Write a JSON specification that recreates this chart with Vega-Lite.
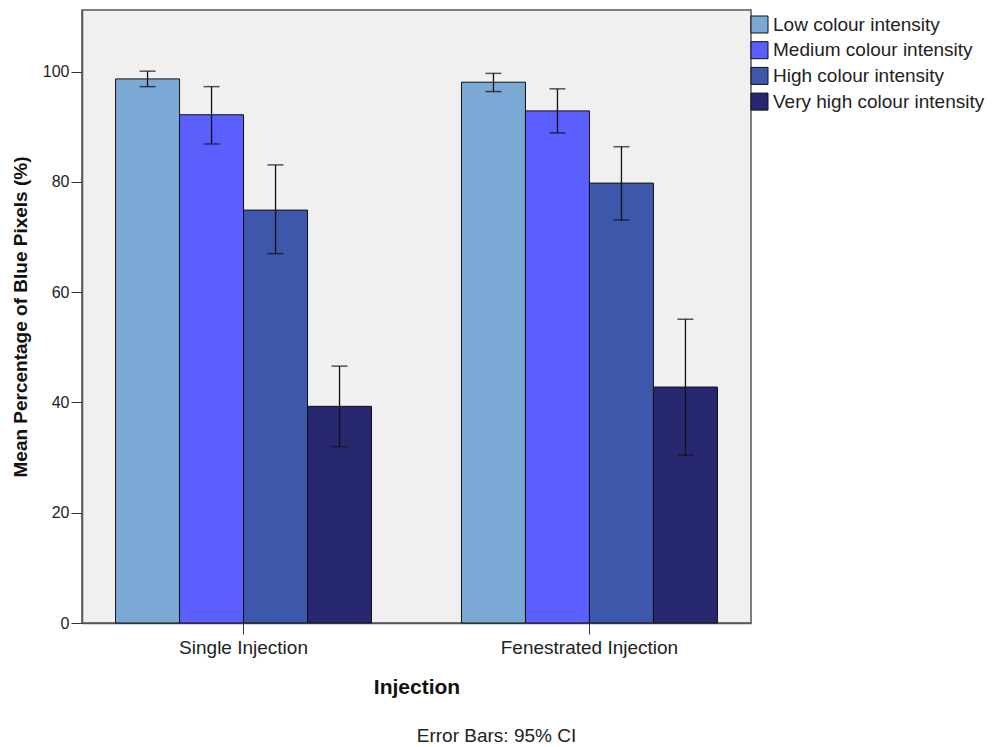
{
  "$schema": "https://vega.github.io/schema/vega-lite/v6.json",
  "width": 669,
  "height": 613,
  "autosize": {"type": "none"},
  "padding": {"left": 82, "top": 10, "right": 247, "bottom": 124},
  "background": "white",
  "config": {
    "view": {"fill": "#f0f0f0", "stroke": "#555555", "strokeWidth": 1.5},
    "font": "Liberation Sans"
  },
  "title": {
    "text": "Error Bars: 95% CI",
    "orient": "bottom",
    "anchor": "middle",
    "dx": 80,
    "offset": 30,
    "fontSize": 19,
    "fontWeight": "normal",
    "color": "#222222",
    "font": "Liberation Sans"
  },
  "data": {
    "values": [
      {"Injection": "Single Injection", "Intensity": "Low colour intensity", "mean": 98.7, "lo": 97.3, "hi": 100.1},
      {"Injection": "Single Injection", "Intensity": "Medium colour intensity", "mean": 92.2, "lo": 86.9, "hi": 97.3},
      {"Injection": "Single Injection", "Intensity": "High colour intensity", "mean": 74.9, "lo": 67.0, "hi": 83.1},
      {"Injection": "Single Injection", "Intensity": "Very high colour intensity", "mean": 39.3, "lo": 32.0, "hi": 46.6},
      {"Injection": "Fenestrated Injection", "Intensity": "Low colour intensity", "mean": 98.1, "lo": 96.4, "hi": 99.7},
      {"Injection": "Fenestrated Injection", "Intensity": "Medium colour intensity", "mean": 92.9, "lo": 88.9, "hi": 96.9},
      {"Injection": "Fenestrated Injection", "Intensity": "High colour intensity", "mean": 79.8, "lo": 73.1, "hi": 86.4},
      {"Injection": "Fenestrated Injection", "Intensity": "Very high colour intensity", "mean": 42.8, "lo": 30.4, "hi": 55.1}
    ]
  },
  "encoding": {
    "x": {
      "field": "Injection",
      "type": "nominal",
      "sort": ["Single Injection", "Fenestrated Injection"],
      "scale": {"paddingInner": 0.26, "paddingOuter": 0.097},
      "axis": {
        "title": "Injection",
        "titleFontSize": 21,
        "titleFontWeight": "bold",
        "titleColor": "#111111",
        "titlePadding": 19,
        "labelAngle": 0,
        "labelFontSize": 19,
        "labelColor": "#222222",
        "labelPadding": 4,
        "tickSize": 11,
        "tickColor": "#333333",
        "domainColor": "#555555",
        "domainWidth": 1.5
      }
    },
    "xOffset": {
      "field": "Intensity",
      "type": "nominal",
      "sort": ["Low colour intensity", "Medium colour intensity", "High colour intensity", "Very high colour intensity"],
      "scale": {"paddingInner": 0, "paddingOuter": 0}
    }
  },
  "layer": [
    {
      "mark": {"type": "bar", "stroke": "#111111", "strokeWidth": 1},
      "encoding": {
        "y": {
          "field": "mean",
          "type": "quantitative",
          "scale": {"domain": [0, 111.2], "nice": false},
          "axis": {
            "title": "Mean Percentage of Blue Pixels (%)",
            "titleFontSize": 19,
            "titleFontWeight": "bold",
            "titleColor": "#111111",
            "titlePadding": 12,
            "values": [0, 20, 40, 60, 80, 100],
            "grid": false,
            "labelFontSize": 16,
            "labelColor": "#222222",
            "labelPadding": 2,
            "tickSize": 11,
            "tickColor": "#333333",
            "domainColor": "#555555",
            "domainWidth": 1.5
          }
        },
        "color": {
          "field": "Intensity",
          "type": "nominal",
          "sort": ["Low colour intensity", "Medium colour intensity", "High colour intensity", "Very high colour intensity"],
          "scale": {
            "domain": ["Low colour intensity", "Medium colour intensity", "High colour intensity", "Very high colour intensity"],
            "range": ["#7ba9d5", "#5b5ffe", "#3d57ab", "#27286f"]
          },
          "legend": {
            "title": null,
            "orient": "none",
            "legendX": 668,
            "legendY": 5,
            "symbolType": "square",
            "symbolSize": 290,
            "symbolStrokeColor": "#111111",
            "symbolStrokeWidth": 1,
            "symbolOpacity": 1,
            "labelFontSize": 19,
            "labelColor": "#222222",
            "labelOffset": 4,
            "rowPadding": 2.7,
            "labelLimit": 300
          }
        }
      }
    },
    {
      "mark": {"type": "rule", "color": "#111111", "strokeWidth": 1.3},
      "encoding": {
        "y": {"field": "lo", "type": "quantitative"},
        "y2": {"field": "hi"}
      }
    },
    {
      "mark": {"type": "tick", "color": "#111111", "thickness": 1.5, "size": 16},
      "encoding": {
        "y": {"field": "lo", "type": "quantitative"}
      }
    },
    {
      "mark": {"type": "tick", "color": "#111111", "thickness": 1.5, "size": 16},
      "encoding": {
        "y": {"field": "hi", "type": "quantitative"}
      }
    }
  ]
}
